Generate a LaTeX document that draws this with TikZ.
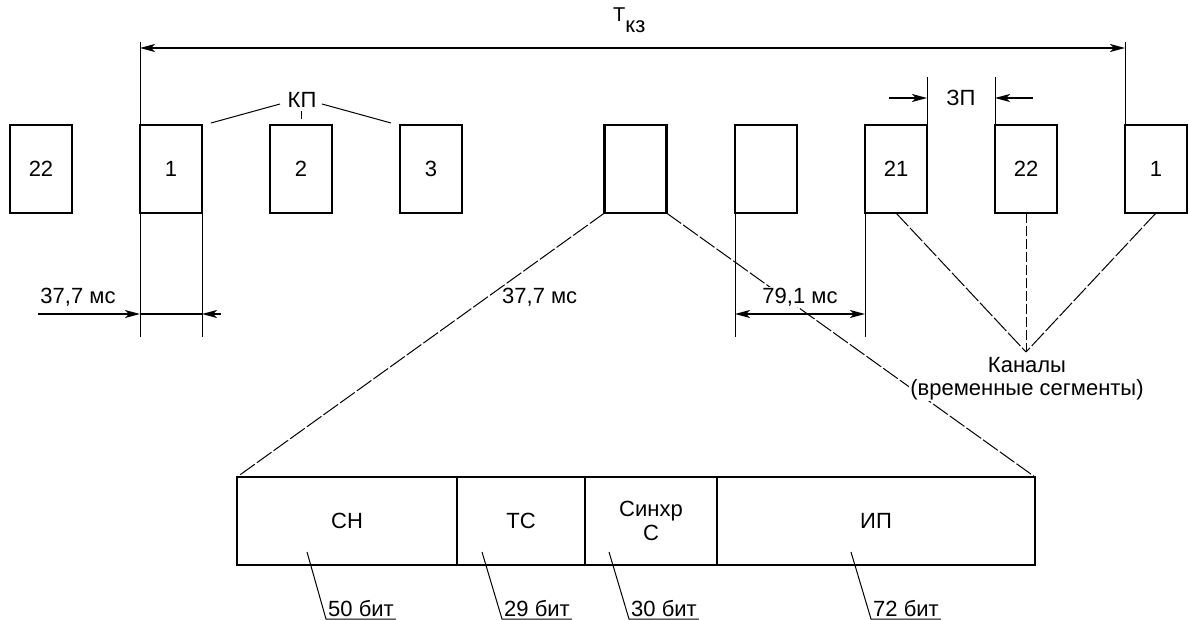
\documentclass[tikz,border=0pt]{standalone}
\usepackage{fontspec}
\setmainfont{Liberation Sans}
\usetikzlibrary{arrows.meta,calc}
\begin{document}
\begin{tikzpicture}[x=1pt,y=-1pt,
  >={Stealth[length=15pt,width=8pt,inset=4pt]},
  slot/.style={draw, line width=2.6pt, minimum width=62pt, minimum height=88pt, inner sep=0pt, outer sep=0pt, font=\fontsize{22}{24}\selectfont},
  cell/.style={draw, line width=2.6pt, minimum height=88pt, inner sep=0pt, outer sep=0pt, anchor=west, align=center, font=\fontsize{22}{24}\selectfont},
  thin/.style={line width=1pt},
  dim/.style={line width=1.1pt},
  ext/.style={line width=1pt, dash pattern=on 18pt off 2.5pt},
  midext/.style={line width=1pt, dash pattern=on 10pt off 3pt},
  lbl/.style={font=\fontsize{22}{23}\selectfont, inner sep=1pt},
]
\useasboundingbox (0,0) rectangle (1189,620);

% top row of slots
\node[slot] (a22) at (41,169) {22};
\node[slot] (a1) at (171,169) {1};
\node[slot] (a2) at (301,169) {2};
\node[slot] (a3) at (431,169) {3};
\node[slot] (e1) at (635.5,169) {};
\node[slot] (e2) at (766,169) {};
\node[slot] (b21) at (896,169) {21};
\node[slot] (b22) at (1026,169) {22};
\node[slot] (b1) at (1156,169) {1};

% helper levels
\coordinate (top) at (0,42);
\coordinate (tk) at (0,48);
\coordinate (bot) at (0,337);
\coordinate (dy) at (0,314);
\coordinate (zt) at (0,77);

% T_kz dimension
\draw[thin] (a1.north west |- top) -- (a1.south west |- bot);
\draw[thin] (b1.north west |- top) -- (b1.north west);
\draw[dim,<->] (a1.west |- tk) -- (b1.west |- tk);
\node[font=\fontsize{20}{22}\selectfont, anchor=base west, inner sep=0pt] (tkz) at (613,22) {T\raisebox{-11pt}{\fontsize{22}{22}\selectfont кз}};

% KP label
\node[lbl] (kp) at (302,100) {КП};
\coordinate (k1a) at (211,123); \coordinate (k1b) at (280,104);
\coordinate (k2a) at (301,111); \coordinate (k2b) at (301,119);
\coordinate (k3a) at (322,104); \coordinate (k3b) at (391,123);
\draw[thin] (k1a) -- (k1b);
\draw[thin] (k2a) -- (k2b);
\draw[thin] (k3a) -- (k3b);

% ZP
\node[lbl] (zp) at (961,98) {ЗП};
\draw[thin] (b21.north east) -- (b21.north east |- zt);
\draw[thin] (b22.north west) -- (b22.north west |- zt);
\coordinate (zl) at (889,98); \coordinate (zr) at (1033,98);
\draw[dim,->] (zl) -- (b21.east |- zp);
\draw[dim,->] (zr) -- (b22.west |- zp);

% left 37,7 ms
\node[lbl] (d1) at (78,297) {37,7 мс};
\draw[thin] (a1.south east) -- (a1.south east |- bot);
\coordinate (dl) at (38,314); \coordinate (dr) at (221,314);
\draw[dim,->] (dl) -- (a1.west |- dy);
\draw[dim] (a1.west |- dy) -- (a1.east |- dy);
\draw[dim,->] (dr) -- (a1.east |- dy);

% 79,1 ms
\draw[thin] (e2.south west) -- (e2.south west |- bot);
\draw[thin] (b21.south west) -- (b21.south west |- bot);
\draw[dim,<->] (e2.west |- dy) -- (b21.west |- dy);

% frame
\node[cell, minimum width=220pt] (c1) at (237,521) {СН};
\node[cell, minimum width=128pt] (c2) at (c1.east) {ТС};
\node[cell, minimum width=132pt] (c3) at (c2.east) {Синхр\\С};
\node[cell, minimum width=318pt] (c4) at (c3.east) {ИП};

% expansion lines
\draw[ext] (e1.south west) -- (c1.north west);
\draw[ext] (e1.south east) -- (c4.north east);
\node[lbl, anchor=west] (d3) at (501,297) {37,7 мс};
\node[lbl, fill=white] (d2) at (800,297) {79,1 мс};

% channels
\coordinate (apex) at (1026,352);
\draw[ext] (b21.south) -- (apex);
\draw[midext] (b22.south) -- (apex);
\draw[ext] (b1.south) -- (apex);
\node[lbl, align=center, fill=white] (kan) at (1027,379) {Каналы\\(временные сегменты)};

% bit labels
\node[lbl, anchor=south west, inner sep=2pt] (n1) at (326,619) {50 бит};
\node[lbl, anchor=south west, inner sep=2pt] (n2) at (502,619) {29 бит};
\node[lbl, anchor=south west, inner sep=2pt] (n3) at (629,619) {30 бит};
\node[lbl, anchor=south west, inner sep=2pt] (n4) at (871,619) {72 бит};
\coordinate (p1) at (307,552);
\coordinate (p2) at (482,552);
\coordinate (p3) at (609,552);
\coordinate (p4) at (851,552);
\draw[thin] (p1) -- (n1.south west) -- (n1.south east);
\draw[thin] (p2) -- (n2.south west) -- (n2.south east);
\draw[thin] (p3) -- (n3.south west) -- (n3.south east);
\draw[thin] (p4) -- (n4.south west) -- (n4.south east);
\end{tikzpicture}
\end{document}
